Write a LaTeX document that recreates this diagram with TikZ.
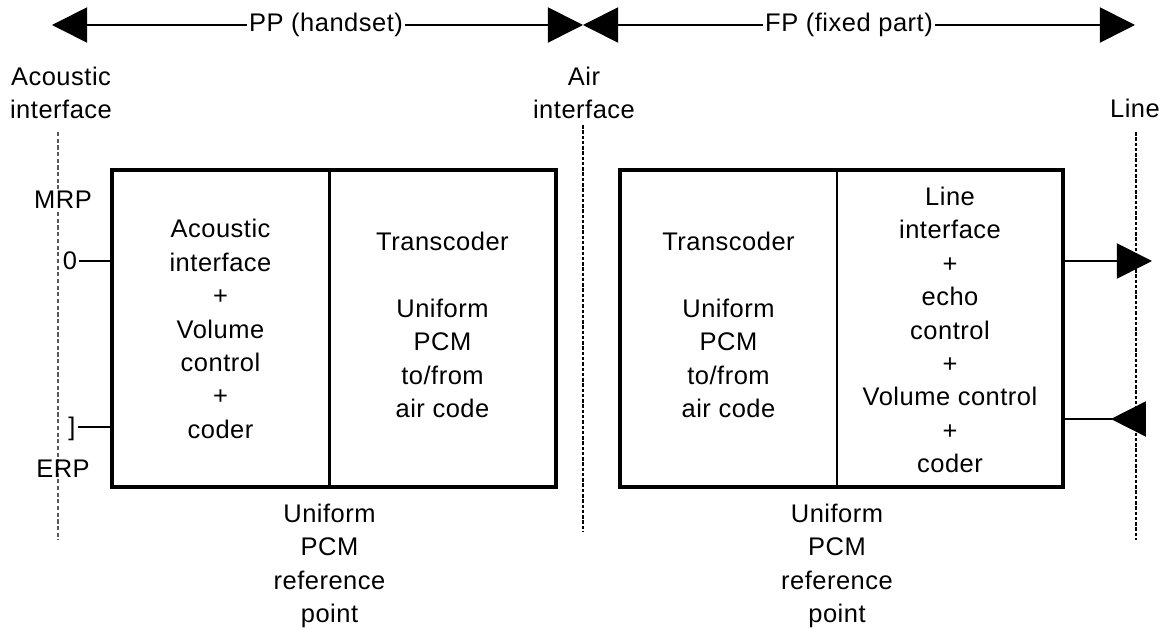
\documentclass[tikz,border=0pt]{standalone}
\usepackage{fontspec}
\setmainfont[LetterSpace=2]{Liberation Sans}
\usetikzlibrary{arrows.meta}

\begin{document}
\begin{tikzpicture}[scale=0.2]
\tikzstyle{every node}+=[inner sep=1pt, align=center, font=\fontsize{14.5}{19}\selectfont]
\tikzstyle{arr}=[line width=1pt, -{Triangle[length=20pt,width=20pt]}]
\tikzstyle{stub}=[line width=1pt]
\tikzstyle{outer}=[draw, line width=2pt, minimum height=6.34cm]
\tikzstyle{divider}=[line width=1.3pt]
\tikzstyle{thindash}=[gray!70!black, line width=0.8pt, dash pattern=on 2.4pt off 1.4pt]
\tikzstyle{thickdash}=[line width=1.2pt, dash pattern=on 2pt off 1pt]
\useasboundingbox (0,0) rectangle (117.2,-62.9);
% top span arrows
\coordinate (acTip) at (5.2,-2.5);
\coordinate (airTip) at (58.3,-2.5);
\coordinate (lineTip) at (113.5,-2.5);
\node (pp) at (32.6,-2.5) {PP (handset)};
\node (fp) at (84.9,-2.5) {FP (fixed part)};
\draw [arr] (pp) -- (acTip);
\draw [arr] (pp) -- (airTip);
\draw [arr] (fp) -- (airTip);
\draw [arr] (fp) -- (lineTip);
% interfaces
\node (acLbl) at (6.1,-9.3) {Acoustic\\interface};
\node (airLbl) at (58.4,-9.3) {Air\\interface};
\node (lineLbl) at (113.5,-10.8) {Line};
\coordinate (acBot) at (5.8,-54);
\coordinate (airBot) at (58.3,-53.2);
\coordinate (lineBot) at (113.6,-54);
\draw [thindash] (acBot |- 0,-13.2) -- (acBot);
\draw [thickdash] (airBot |- 0,-12.5) -- (airBot);
\draw [thickdash] (lineBot |- 0,-13.2) -- (lineBot);
% boxes
\node [outer, minimum width=8.88cm] (hsbox) at (33.4,-32.85) {};
\node [outer, minimum width=8.86cm] (fpbox) at (84.15,-32.85) {};
\draw [divider] (32.95,0 |- hsbox.north) -- (32.95,0 |- hsbox.south);
\draw [divider] (83.7,0 |- fpbox.north) -- (83.7,0 |- fpbox.south);
\node (acoustic) at (22.05,-32.9) {Acoustic\\interface\\+\\Volume\\control\\+\\coder};
\node (hstrans) at (44.25,-32.5) {Transcoder\\[19pt]Uniform\\PCM\\to/from\\air code};
\node (fptrans) at (72.85,-32.5) {Transcoder\\[19pt]Uniform\\PCM\\to/from\\air code};
\node (lineif) at (95.0,-33.0) {Line\\interface\\+\\echo\\control\\+\\Volume control\\+\\coder};
% reference points
\node [fill=white] (mrp) at (6.3,-20.0) {MRP};
\node (zero) at (7.0,-26.1) {0};
\node (erpMark) at (7.2,-42.9) {]};
\node (erp) at (6.3,-46.9) {ERP};
\draw [stub] (zero) -- (zero -| hsbox.west);
\draw [stub] (erpMark.east |- 0,-42.7) -- (hsbox.west |- 0,-42.7);
\node (refL) at (32.95,-56.6) {Uniform\\PCM\\reference\\point};
\node (refR) at (83.7,-56.6) {Uniform\\PCM\\reference\\point};
% line side
\coordinate (outTip) at (115.2,-26.1);
\coordinate (inBack) at (114.6,-41.9);
\draw [arr] (outTip -| fpbox.east) -- (outTip);
\draw [line width=1pt, {Triangle[reversed,length=20pt,width=20pt]}-] (inBack) -- (inBack -| fpbox.east);
\end{tikzpicture}
\end{document}
